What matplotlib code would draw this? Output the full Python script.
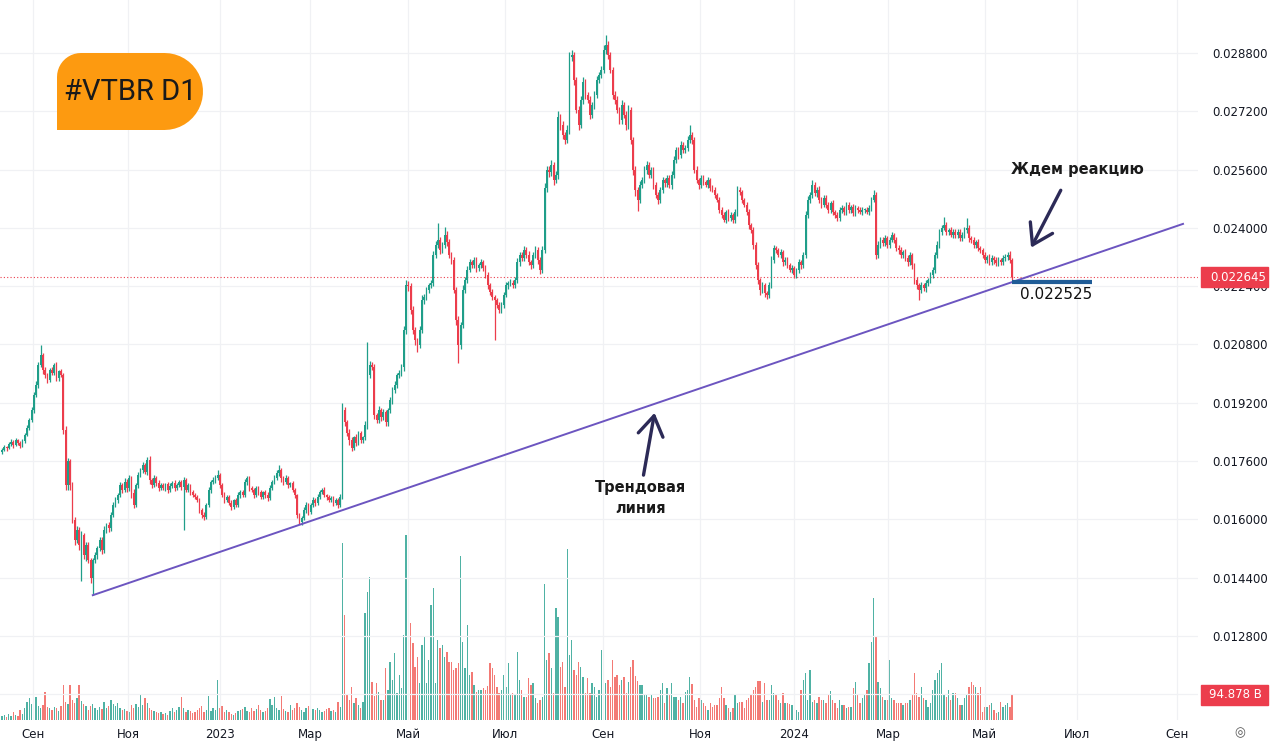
import numpy as np
import matplotlib.pyplot as plt
import matplotlib.transforms as mtransforms
from matplotlib.patches import PathPatch, Rectangle
from matplotlib.path import Path

plt.rcParams['font.family'] = ['DejaVu Sans']

# daily closes, units of 1e-5 RUB (open = previous close)
first_open = 1785
close = [
    1791, 1798, 1796, 1807, 1813, 1804, 1818, 1810, 1802, 1815,
    1832, 1851, 1873, 1900, 1942, 1969, 2024, 2051, 2010, 1996,
    1983, 2010, 2003, 2024, 1989, 2006, 1996, 1845, 1694, 1760,
    1694, 1599, 1544, 1571, 1530, 1557, 1503, 1530, 1489, 1440,
    1489, 1503, 1522, 1544, 1516, 1571, 1585, 1577, 1612, 1640,
    1653, 1667, 1694, 1681, 1703, 1686, 1714, 1672, 1640, 1694,
    1722, 1736, 1749, 1730, 1763, 1708, 1694, 1714, 1700, 1686,
    1694, 1686, 1697, 1681, 1692, 1700, 1686, 1694, 1703, 1689,
    1708, 1681, 1694, 1675, 1667, 1662, 1653, 1626, 1612, 1607,
    1640, 1681, 1703, 1708, 1714, 1722, 1694, 1667, 1653, 1662,
    1645, 1634, 1653, 1640, 1667, 1675, 1667, 1703, 1714, 1686,
    1681, 1667, 1686, 1675, 1662, 1675, 1667, 1659, 1686, 1703,
    1714, 1727, 1736, 1714, 1703, 1714, 1694, 1700, 1681, 1667,
    1612, 1593, 1604, 1626, 1640, 1620, 1640, 1653, 1645, 1662,
    1675, 1681, 1667, 1662, 1653, 1659, 1645, 1653, 1640, 1662,
    1900, 1866, 1838, 1818, 1797, 1825, 1811, 1836, 1818, 1825,
    1859, 1996, 2024, 2017, 1887, 1873, 1900, 1880, 1894, 1866,
    1900, 1928, 1955, 1969, 1996, 2003, 2017, 2120, 2243, 2240,
    2175, 2120, 2092, 2079, 2120, 2202, 2210, 2230, 2243, 2249,
    2326, 2353, 2367, 2339, 2353, 2381, 2361, 2326, 2312, 2230,
    2147, 2079, 2134, 2230, 2257, 2285, 2306, 2298, 2312, 2290,
    2298, 2306, 2290, 2271, 2243, 2224, 2210, 2202, 2189, 2175,
    2189, 2216, 2243, 2249, 2249, 2243, 2257, 2306, 2326, 2318,
    2339, 2326, 2306, 2298, 2326, 2339, 2312, 2285, 2339, 2510,
    2559, 2553, 2573, 2531, 2545, 2704, 2682, 2655, 2641, 2669,
    2869, 2875, 2806, 2724, 2682, 2751, 2800, 2765, 2751, 2710,
    2737, 2765, 2806, 2820, 2833, 2888, 2902, 2875, 2833, 2765,
    2751, 2724, 2696, 2737, 2710, 2682, 2724, 2641, 2559, 2504,
    2477, 2518, 2531, 2559, 2573, 2545, 2559, 2518, 2490, 2477,
    2504, 2531, 2522, 2536, 2518, 2545, 2586, 2614, 2600, 2628,
    2614, 2619, 2641, 2655, 2641, 2559, 2531, 2518, 2536, 2525,
    2518, 2531, 2509, 2504, 2490, 2477, 2449, 2435, 2422, 2444,
    2427, 2435, 2422, 2444, 2504, 2498, 2477, 2463, 2444, 2408,
    2394, 2353, 2298, 2257, 2230, 2243, 2221, 2216, 2243, 2312,
    2345, 2339, 2326, 2334, 2306, 2312, 2298, 2285, 2290, 2271,
    2285, 2306, 2298, 2326, 2435, 2477, 2490, 2518, 2496, 2504,
    2477, 2463, 2482, 2463, 2449, 2468, 2444, 2435, 2427, 2449,
    2455, 2444, 2463, 2449, 2457, 2441, 2455, 2449, 2444, 2449,
    2449, 2444, 2455, 2477, 2490, 2326, 2353, 2367, 2359, 2372,
    2353, 2367, 2381, 2367, 2345, 2339, 2326, 2334, 2318, 2306,
    2326, 2298, 2257, 2243, 2230, 2243, 2235, 2249, 2257, 2271,
    2285, 2326, 2353, 2389, 2400, 2408, 2389, 2394, 2381, 2389,
    2381, 2389, 2372, 2381, 2394, 2400, 2372, 2367, 2353, 2361,
    2345, 2339, 2326, 2312, 2320, 2306, 2318, 2312, 2304, 2312,
    2306, 2318, 2320, 2326, 2312, 2264.5,
]
up_wick = [
    4, 6, 3, 5, 8, 4, 6, 3, 5, 7,
    5, 8, 6, 9, 7, 10, 8, 28, 6, 9,
    7, 5, 9, 6, 8, 5, 7, 5, 12, 8,
    6, 9, 7, 12, 8, 10, 6, 9, 7, 5,
    6, 8, 5, 9, 7, 10, 6, 8, 7, 9,
    8, 6, 9, 5, 10, 7, 8, 6, 12, 7,
    9, 6, 8, 5, 8, 10, 6, 7, 5, 8,
    5, 7, 4, 6, 8, 5, 7, 6, 4, 6,
    8, 5, 7, 4, 6, 5, 4, 6, 5, 7,
    6, 9, 5, 7, 8, 14, 6, 5, 7, 4,
    5, 7, 4, 6, 8, 5, 7, 9, 6, 5,
    6, 4, 7, 5, 6, 4, 5, 7, 8, 6,
    7, 9, 12, 5, 6, 8, 5, 4, 6, 5,
    4, 6, 5, 8, 7, 5, 6, 8, 5, 7,
    6, 5, 7, 4, 6, 5, 4, 6, 5, 8,
    20, 8, 6, 9, 7, 5, 8, 6, 7, 5,
    10, 91, 12, 8, 9, 6, 10, 7, 8, 6,
    7, 9, 8, 10, 7, 6, 9, 12, 14, 10,
    9, 12, 8, 6, 10, 14, 8, 9, 7, 8,
    10, 12, 47, 9, 8, 22, 10, 8, 7, 9,
    8, 10, 9, 12, 8, 10, 9, 7, 8, 9,
    7, 9, 6, 8, 7, 6, 8, 7, 6, 8,
    7, 9, 8, 6, 10, 7, 8, 12, 9, 8,
    12, 8, 10, 7, 9, 12, 8, 7, 10, 14,
    12, 10, 14, 8, 10, 16, 9, 10, 8, 12,
    14, 12, 9, 8, 10, 12, 14, 9, 8, 10,
    9, 12, 10, 8, 12, 14, 27, 10, 9, 8,
    10, 12, 8, 14, 9, 10, 12, 8, 9, 10,
    8, 10, 9, 12, 10, 8, 9, 7, 8, 9,
    8, 10, 7, 9, 8, 10, 12, 9, 8, 10,
    9, 8, 10, 27, 9, 8, 10, 7, 9, 8,
    7, 9, 6, 8, 7, 6, 8, 7, 9, 6,
    7, 8, 6, 9, 10, 8, 7, 6, 8, 7,
    6, 8, 7, 9, 6, 8, 7, 6, 9, 10,
    8, 6, 7, 9, 6, 7, 8, 6, 7, 5,
    6, 8, 7, 9, 12, 10, 8, 13, 9, 8,
    10, 8, 7, 9, 8, 7, 9, 6, 8, 7,
    8, 6, 7, 9, 6, 8, 7, 6, 8, 7,
    6, 8, 7, 9, 14, 8, 10, 9, 7, 8,
    7, 9, 8, 6, 8, 7, 9, 6, 8, 7,
    8, 6, 7, 9, 6, 8, 7, 9, 6, 8,
    7, 9, 10, 8, 9, 22, 8, 7, 9, 8,
    7, 9, 8, 7, 9, 27, 8, 6, 8, 7,
    8, 6, 7, 9, 6, 8, 7, 6, 8, 7,
    6, 8, 7, 9, 10, 6,
]
dn_wick = [
    5, 3, 7, 4, 6, 8, 3, 5, 6, 4,
    6, 4, 7, 5, 8, 6, 9, 7, 10, 8,
    9, 6, 8, 7, 10, 8, 6, 10, 14, 12,
    12, 10, 15, 9, 14, 100, 12, 16, 10, 14,
    48, 9, 12, 8, 10, 7, 9, 11, 8, 6,
    7, 9, 6, 8, 5, 10, 7, 12, 9, 6,
    8, 7, 9, 6, 8, 10, 7, 6, 8, 9,
    6, 5, 7, 8, 6, 5, 7, 6, 5, 8,
    118, 7, 6, 8, 5, 7, 6, 9, 8, 10,
    7, 5, 8, 6, 7, 5, 9, 6, 8, 5,
    6, 8, 5, 7, 6, 9, 5, 6, 8, 7,
    5, 7, 6, 8, 5, 6, 7, 9, 6, 5,
    6, 5, 7, 12, 9, 6, 8, 5, 7, 9,
    8, 6, 7, 5, 9, 7, 6, 5, 8, 6,
    7, 5, 6, 8, 6, 5, 7, 6, 8, 5,
    5, 9, 10, 14, 8, 7, 9, 6, 8, 7,
    8, 10, 9, 7, 12, 9, 8, 10, 7, 9,
    9, 8, 10, 7, 9, 8, 10, 9, 12, 14,
    12, 10, 14, 19, 9, 8, 10, 9, 8, 7,
    9, 10, 8, 12, 9, 8, 10, 9, 12, 10,
    14, 49, 12, 10, 9, 8, 7, 9, 8, 10,
    8, 7, 9, 8, 10, 9, 8, 110, 9, 8,
    9, 8, 7, 10, 8, 9, 7, 8, 10, 9,
    8, 10, 9, 12, 8, 9, 10, 12, 8, 9,
    12, 14, 10, 12, 9, 10, 14, 12, 10, 9,
    10, 12, 14, 10, 12, 9, 10, 12, 9, 10,
    9, 10, 8, 9, 10, 8, 10, 12, 9, 10,
    10, 9, 12, 10, 9, 12, 10, 12, 14, 16,
    30, 10, 9, 8, 10, 9, 8, 10, 9, 12,
    9, 8, 10, 9, 8, 10, 8, 9, 10, 8,
    8, 9, 7, 8, 10, 9, 8, 10, 9, 8,
    7, 9, 8, 6, 8, 7, 9, 8, 7, 9,
    8, 7, 9, 8, 10, 9, 8, 7, 9, 10,
    9, 10, 12, 10, 14, 9, 10, 12, 9, 8,
    8, 9, 7, 8, 10, 9, 8, 7, 9, 8,
    9, 8, 10, 7, 9, 8, 10, 9, 8, 10,
    8, 9, 7, 8, 9, 7, 8, 9, 8, 7,
    7, 8, 9, 7, 8, 9, 7, 8, 7, 9,
    8, 7, 9, 8, 7, 12, 9, 8, 10, 9,
    8, 9, 7, 8, 9, 10, 8, 9, 8, 10,
    9, 10, 12, 10, 28, 9, 8, 10, 9, 8,
    9, 8, 10, 9, 8, 7, 9, 8, 7, 9,
    8, 9, 7, 8, 9, 8, 10, 9, 8, 9,
    9, 8, 10, 9, 8, 9, 8, 10, 9, 8,
    8, 9, 8, 7, 9, 8,
]
# volume, billions
volume = [
    15, 19, 11, 23, 15, 30, 19, 15, 38, 23,
    46, 68, 84, 61, 76, 87, 53, 46, 57, 106,
    49, 46, 38, 49, 46, 34, 53, 133, 68, 61,
    133, 76, 65, 84, 133, 72, 61, 53, 38, 53,
    61, 46, 38, 49, 42, 68, 46, 53, 76, 61,
    53, 65, 46, 38, 42, 34, 30, 57, 46, 61,
    49, 95, 57, 84, 65, 46, 38, 34, 30, 27,
    30, 23, 27, 19, 34, 46, 30, 38, 49, 87,
    46, 30, 38, 34, 27, 30, 38, 46, 53, 30,
    38, 91, 34, 46, 38, 150, 46, 53, 30, 38,
    30, 23, 19, 27, 34, 38, 42, 49, 34, 30,
    46, 34, 42, 57, 38, 30, 34, 46, 80, 57,
    87, 46, 38, 91, 42, 34, 30, 57, 38, 46,
    65, 49, 38, 30, 46, 53, 34, 42, 38, 46,
    38, 30, 34, 42, 46, 34, 38, 30, 68, 49,
    673, 399, 99, 76, 125, 65, 84, 57, 46, 68,
    407, 486, 543, 144, 91, 141, 106, 76, 76, 198,
    114, 220, 152, 255, 103, 171, 122, 323, 703, 467,
    369, 293, 201, 239, 141, 285, 315, 141, 228, 437,
    502, 141, 304, 274, 285, 239, 258, 220, 220, 190,
    198, 217, 623, 296, 198, 361, 171, 182, 133, 106,
    114, 114, 122, 114, 129, 217, 198, 171, 125, 103,
    114, 171, 125, 217, 95, 103, 95, 258, 152, 114,
    87, 87, 160, 133, 141, 84, 65, 76, 87, 517,
    228, 255, 198, 103, 426, 391, 201, 220, 125, 650,
    247, 304, 190, 171, 220, 201, 163, 103, 160, 103,
    141, 125, 87, 114, 266, 87, 141, 152, 125, 228,
    163, 171, 133, 152, 163, 103, 144, 201, 228, 167,
    148, 133, 133, 95, 95, 87, 95, 84, 84, 87,
    114, 141, 65, 122, 95, 141, 87, 87, 76, 87,
    65, 106, 114, 163, 137, 76, 49, 84, 76, 65,
    53, 38, 65, 49, 57, 57, 84, 125, 84, 57,
    46, 30, 46, 95, 65, 68, 68, 46, 76, 84,
    95, 114, 125, 148, 148, 68, 141, 76, 76, 133,
    103, 95, 76, 65, 103, 65, 65, 61, 57, 46,
    38, 30, 114, 152, 179, 76, 190, 68, 76, 65,
    87, 76, 76, 65, 95, 110, 76, 65, 46, 76,
    57, 57, 46, 49, 49, 122, 144, 95, 65, 84,
    95, 114, 217, 296, 464, 319, 144, 122, 87, 76,
    76, 228, 84, 76, 65, 65, 65, 57, 65, 65,
    76, 95, 179, 103, 87, 125, 84, 76, 49, 65,
    114, 152, 179, 190, 217, 95, 87, 114, 76, 103,
    103, 84, 57, 57, 84, 95, 125, 144, 133, 125,
    103, 125, 30, 49, 49, 57, 65, 38, 27, 30,
    68, 49, 57, 65, 49, 94.878,
]

month_pos = [13.7, 55.5, 96.0, 135.7, 178.9, 221.6, 264.8, 307.5, 348.9, 390.3, 433.0, 473.6, 517.6]
month_lbl = ['Сен', 'Ноя', '2023', 'Мар', 'Май', 'Июл', 'Сен', 'Ноя', '2024', 'Мар', 'Май', 'Июл', 'Сен']
price_levels = [0.0128, 0.0144, 0.0160, 0.0176, 0.0192, 0.0208, 0.0224,
                0.0240, 0.0256, 0.0272, 0.0288]
grid_levels = [0.0112] + price_levels + [0.0304]
trend_start_bar = 40
trend_end = (520.3, 0.02411)
support_level = 0.022525
support_bars = (445, 480)

GREEN = '#1f9e89'
RED = '#ec3d4c'
VGREEN = '#4fb2a4'
VRED = '#f37a75'
TXT = '#131722'
NAVY = '#2c2a57'

c = np.array(close) / 1e5
o = np.r_[first_open, close[:-1]] / 1e5
h = np.maximum(o, c) + np.array(up_wick) / 1e5
l = np.minimum(o, c) - np.array(dn_wick) / 1e5
x = np.arange(len(c))
rise = c >= o

fig = plt.figure(figsize=(12.8, 7.53), dpi=100)
ax = fig.add_axes([0, 33 / 753, 1198 / 1280, 720 / 753])
ax2 = ax.twinx()
ax.set_zorder(ax2.get_zorder() + 1)
ax.patch.set_visible(False)

ax.set_xlim(-0.88, 526.9)
ax.set_ylim(0.010495, 0.030254)
ax2.set_ylim(0, 2732)

# grid
for p in grid_levels:
    ax.axhline(p, color='#f0f1f4', lw=0.9, zorder=0)
for m in month_pos:
    ax.axvline(m, color='#f0f1f4', lw=0.9, zorder=0)

# volume
ax2.bar(x, volume, width=0.6, color=np.where(rise, VGREEN, VRED), lw=0)
ax2.set_yticks([])
for s in ax2.spines.values():
    s.set_visible(False)

# candles
ccol = np.where(rise, GREEN, RED)
ax.vlines(x, l, h, colors=ccol, lw=0.9, zorder=3)
ax.bar(x, np.maximum(np.abs(c - o), 3e-5), bottom=np.minimum(o, c), width=0.75,
       color=ccol, lw=0, zorder=3)

# last price line
ax.axhline(c[-1], color=RED, lw=0.8, ls=(0, (1, 2)), zorder=2)

# trend line and support level
ax.plot([trend_start_bar, trend_end[0]], [l[trend_start_bar], trend_end[1]],
        color='#6c55c0', lw=1.4, zorder=4)
ax.hlines(support_level, support_bars[0], support_bars[1], color='#1f5c97', lw=3, zorder=4)
ax.text(448.5, 0.02216, f'{support_level:.6f}', fontsize=11, color='#111111',
        ha='left', va='center', zorder=6)

# annotations
ax.text(473.6, 0.02559, 'Ждем реакцию', fontsize=10.5, fontweight='bold', color='#1a1a1a',
        ha='center', va='center', zorder=6)
ax.annotate('', xy=(452.8, 0.02339), xytext=(467.0, 0.02510),
            arrowprops=dict(arrowstyle='->,head_length=0.7,head_width=0.45',
                            lw=2.4, color=NAVY, mutation_scale=20), zorder=6)
ax.text(281.5, 0.01659, 'Трендовая\nлиния', fontsize=10.5, fontweight='bold', color='#1a1a1a',
        ha='center', va='center', linespacing=1.45, zorder=6)
ax.annotate('', xy=(287.7, 0.01900), xytext=(282.4, 0.01714),
            arrowprops=dict(arrowstyle='->,head_length=0.7,head_width=0.45',
                            lw=2.4, color=NAVY, mutation_scale=20), zorder=6)

# axes styling
for s in ax.spines.values():
    s.set_visible(False)
ax.yaxis.tick_right()
ax.set_yticks(price_levels)
ax.set_yticklabels([f'{p:.6f}' for p in price_levels])
ax.tick_params(axis='y', length=0, pad=10, labelsize=8.5, labelcolor=TXT)
ax.set_xticks(month_pos)
ax.set_xticklabels(month_lbl)
ax.tick_params(axis='x', length=0, pad=6, labelsize=8.5, labelcolor=TXT)

blend = mtransforms.blended_transform_factory(ax.transAxes, ax.transData)
ax.text(1212 / 1198, 0.0304, '0.030400', transform=blend, fontsize=8.5, color=TXT,
        ha='left', va='center', clip_on=False)
ax.add_patch(Rectangle((1201 / 1198, c[-1] - 0.000275), 67 / 1198, 0.00055, transform=blend,
                       color=RED, clip_on=False, zorder=7))
ax.text(1210 / 1198, c[-1], f'{c[-1]:.6f}', transform=blend, fontsize=8.5, color='white',
        ha='left', va='center', clip_on=False, zorder=8)

blend2 = mtransforms.blended_transform_factory(ax2.transAxes, ax2.transData)
ax2.add_patch(Rectangle((1201 / 1198, volume[-1] - 38), 67 / 1198, 76, transform=blend2,
                        color=RED, clip_on=False, zorder=7))
ax2.text(1209 / 1198, volume[-1], f'{volume[-1]:.3f} B', transform=blend2, fontsize=8.5,
         color='white', ha='left', va='center', clip_on=False, zorder=8)

fig.text(1240 / 1280, 1 - 733 / 753, '◎', fontsize=9, color='#555555', ha='center', va='center')

# title badge (pixel geometry -> inches)
def px(xp, yp):
    return (xp / 100, (753 - yp) / 100)

r1, R = 24, 38.5
x0, x1, y0, y1 = 57, 203, 53, 130
verts = [px(x0, y1), px(x0, y0 + r1)]
for a in np.linspace(np.pi, np.pi / 2, 12):
    verts.append(px(x0 + r1 + r1 * np.cos(a), y0 + r1 - r1 * np.sin(a)))
verts.append(px(x1 - R, y0))
for a in np.linspace(np.pi / 2, -np.pi / 2, 24):
    verts.append(px(x1 - R + R * np.cos(a), (y0 + y1) / 2 - R * np.sin(a)))
verts.append(px(x0, y1))
badge = PathPatch(Path(verts, closed=True), transform=fig.dpi_scale_trans,
                  facecolor='#fd9a10', edgecolor='none')
fig.patches.append(badge)
fig.text(130 / 1280, 1 - 92 / 753, '#VTBR D1', fontsize=21, family='Roboto',
         color='#1a1a1a', ha='center', va='center')

fig.savefig('out.png', dpi=100)
